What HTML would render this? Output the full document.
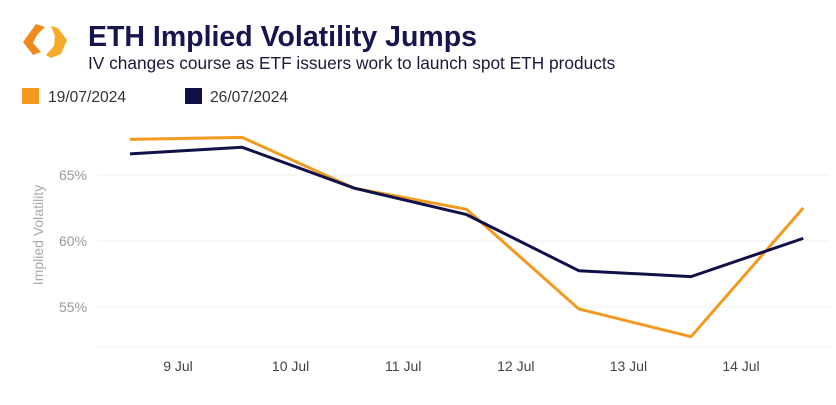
<!DOCTYPE html>
<html><head><meta charset="utf-8"><style>
html,body{margin:0;padding:0;background:#fff;width:836px;height:405px;overflow:hidden;font-family:"Liberation Sans",sans-serif}
</style></head><body>
<svg width="836" height="405" viewBox="0 0 836 405" xmlns="http://www.w3.org/2000/svg">
<g>
<polygon points="36,24 45,27 37,35 33,43 41,52 33,55 23,42" fill="#f08a1e"/>
<polygon points="51,26 58,28 67,40 61,54 51,58 46,55 54,46 55,36" fill="#f7a928"/>
</g>
<text x="88" y="46" font-size="28.5" font-weight="bold" fill="#16154e">ETH Implied Volatility Jumps</text>
<text x="88" y="69" font-size="17.3" fill="#1a1a3a">IV changes course as ETF issuers work to launch spot ETH products</text>
<g><rect x="22" y="88" width="17" height="16" fill="#f39a1e"/><text x="48" y="102" font-size="15.6" fill="#333">19/07/2024</text></g>
<g><rect x="185" y="88" width="17" height="16" fill="#11114a"/><text x="210" y="102" font-size="15.6" fill="#333">26/07/2024</text></g>
<text transform="translate(43,235) rotate(-90)" text-anchor="middle" font-size="14" fill="#aaa">Implied Volatility</text>
<g id="grid"></g><g id="lines"></g>
</svg>
<script>
const categories=["8.5","9.5","10.5","11.5","12.5","13.5","14.5"];
const xLabels=["9 Jul","10 Jul","11 Jul","12 Jul","13 Jul","14 Jul"];
const seriesA=[67.7,67.85,64.0,62.4,54.85,52.75,62.5];
const seriesB=[66.6,67.1,64.0,62.0,57.75,57.3,60.2];
const yTicks=[55,60,65];
const NS="http://www.w3.org/2000/svg";
const y=v=>241-(v-60)*13.2;
const x=i=>130+i*112.2;
const xl=i=>178+i*112.6;
const grid=document.getElementById('grid'),lines=document.getElementById('lines');
yTicks.forEach(t=>{
 const l=document.createElementNS(NS,'line');
 l.setAttribute('x1',97);l.setAttribute('x2',830);l.setAttribute('y1',y(t));l.setAttribute('y2',y(t));
 l.setAttribute('stroke','#efefef');l.setAttribute('stroke-width','1');
 
 
 grid.appendChild(l);
 const tx=document.createElementNS(NS,'text');
 tx.setAttribute('x',87);tx.setAttribute('y',y(t)+5);tx.setAttribute('text-anchor','end');
 tx.setAttribute('font-size','14');tx.setAttribute('fill','#999');tx.textContent=t+'%';
 
 
 grid.appendChild(tx);
});
const base=document.createElementNS(NS,'line');
base.setAttribute('x1',97);base.setAttribute('x2',830);base.setAttribute('y1',347);base.setAttribute('y2',347);
base.setAttribute('stroke','#eee');


grid.appendChild(base);
xLabels.forEach((s,i)=>{
 const tx=document.createElementNS(NS,'text');
 tx.setAttribute('x',xl(i));tx.setAttribute('y',371);tx.setAttribute('text-anchor','middle');
 tx.setAttribute('font-size','14');tx.setAttribute('fill','#444');tx.textContent=s;
 
 
 grid.appendChild(tx);
});
function draw(data,color,name){
 const p=document.createElementNS(NS,'polyline');
 p.setAttribute('points',data.map((v,i)=>x(i)+','+y(v)).join(' '));
 p.setAttribute('fill','none');p.setAttribute('stroke',color);p.setAttribute('stroke-width','3');
 p.setAttribute('stroke-linejoin','round');
 
 
 lines.appendChild(p);
}
draw(seriesA,'#f39a1e','series-19-07-line');
draw(seriesB,'#11114a','series-26-07-line');
</script>
</body></html>
